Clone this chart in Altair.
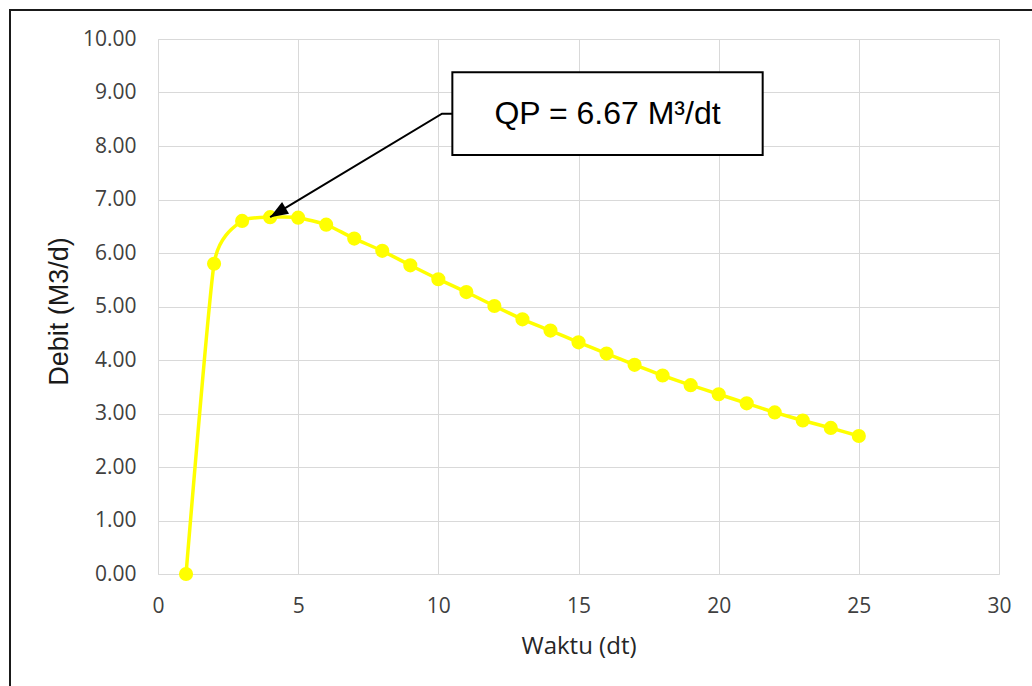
import math

import altair as alt
import pandas as pd

# Hydrograph: discharge (Debit) against time (Waktu)
waktu = list(range(1, 26))
debit = [0.00, 5.80, 6.60, 6.67, 6.66, 6.53, 6.27, 6.04, 5.77, 5.51,
         5.27, 5.01, 4.76, 4.55, 4.33, 4.12, 3.91, 3.71, 3.53, 3.36,
         3.19, 3.02, 2.87, 2.73, 2.58]

x_ticks = [0, 5, 10, 15, 20, 25, 30]
y_ticks = [0, 1, 2, 3, 4, 5, 6, 7, 8, 9, 10]

# Peak discharge, used by the callout
i_peak = max(range(len(debit)), key=lambda i: debit[i])
peak_x, peak_y = waktu[i_peak], debit[i_peak]
callout_text = f"QP = {peak_y:.2f} M³/dt"

# Callout geometry (data units)
BOX_X = (10.5, 21.57)
BOX_Y = (7.83, 9.38)
ELBOW_X = 10.13
MID_Y = (BOX_Y[0] + BOX_Y[1]) / 2

W, H = 841, 535
PAD = {"left": 158, "top": 39, "right": 33, "bottom": 112}
X_DOM, Y_DOM = (0, 30), (0, 10)

df = pd.DataFrame({"waktu": waktu, "debit": debit})

grid = "#d9d9d9"
x_enc = alt.X(
    "waktu:Q",
    scale=alt.Scale(domain=list(X_DOM), nice=False, zero=False),
    axis=alt.Axis(
        values=x_ticks, title="Waktu (dt)", grid=True, gridColor=grid,
        domainColor=grid, ticks=False, tickSize=0, labelPadding=38,
        labelFlush=False, labelBaseline="alphabetic", labelFont="Open Sans",
        labelFontSize=21, labelColor="#404040", titleFont="Open Sans",
        titleFontSize=24, titleFontWeight="normal", titleColor="#262626",
        titleX=W / 2, titleY=79, titleBaseline="alphabetic",
    ),
)
y_enc = alt.Y(
    "debit:Q",
    scale=alt.Scale(domain=list(Y_DOM), nice=False),
    axis=alt.Axis(
        values=y_ticks, format=".2f", title="Debit (M3/d)", grid=True,
        gridColor=grid, domainColor=grid, ticks=False, tickSize=0,
        labelPadding=22, labelFlush=False, labelFont="Open Sans",
        labelFontSize=21, labelColor="#404040", titleFont="Liberation Sans",
        titleFontSize=27, titleFontWeight="normal", titleColor="#1a1a1a",
        titleX=-99, titleY=272, titleBaseline="middle", titleAlign="center",
    ),
)

# Smoothed series line with markers
line = alt.Chart(df).mark_line(
    color="#FFFF00", strokeWidth=3.5, interpolate="cardinal", tension=0.5
).encode(x=x_enc, y=y_enc)

dots = alt.Chart(df).mark_circle(
    color="#FFFF00", size=200, opacity=1
).encode(x="waktu:Q", y="debit:Q")

# Callout leader: box edge -> elbow -> peak
leader_df = pd.DataFrame({
    "waktu": [BOX_X[0], ELBOW_X, peak_x],
    "debit": [MID_Y, MID_Y, peak_y],
    "o": [0, 1, 2],
})
leader = alt.Chart(leader_df).mark_line(
    color="#000000", strokeWidth=2
).encode(x="waktu:Q", y="debit:Q", order="o:Q")

# Arrowhead orientation from the last leader segment, in pixels
px_x = W / (X_DOM[1] - X_DOM[0])
px_y = H / (Y_DOM[1] - Y_DOM[0])
dx = (peak_x - ELBOW_X) * px_x
dy = -(peak_y - MID_Y) * px_y
head_angle = math.degrees(math.atan2(dx, -dy)) % 360

head = alt.Chart(pd.DataFrame({"waktu": [peak_x], "debit": [peak_y]})).mark_point(
    shape="M0,0L-0.375,1L0.375,1Z", filled=True, fill="#000000",
    size=1296, angle=head_angle, strokeWidth=0, opacity=1,
).encode(x="waktu:Q", y="debit:Q")

box = alt.Chart(pd.DataFrame({
    "x0": [BOX_X[0]], "x1": [BOX_X[1]], "y0": [BOX_Y[0]], "y1": [BOX_Y[1]],
})).mark_rect(fill="#ffffff", stroke="#000000", strokeWidth=2).encode(
    x="x0:Q", x2="x1:Q", y="y0:Q", y2="y1:Q"
)

label = alt.Chart(pd.DataFrame({
    "waktu": [(BOX_X[0] + BOX_X[1]) / 2], "debit": [MID_Y], "t": [callout_text],
})).mark_text(
    font="Liberation Sans", fontSize=32, color="#000000",
    align="center", baseline="middle",
).encode(x="waktu:Q", y="debit:Q", text="t:N")

# Outer frame (top and left edges)
one = pd.DataFrame({"k": [0]})
frame_top = alt.Chart(one).mark_rule(color="#1a1a1a", strokeWidth=2).encode(
    x=alt.value(-149), x2=alt.value(W + PAD["right"]), y=alt.value(-29)
)
frame_left = alt.Chart(one).mark_rule(color="#1a1a1a", strokeWidth=2).encode(
    x=alt.value(-148), y=alt.value(-30), y2=alt.value(H + PAD["bottom"])
)

chart = alt.layer(
    line, dots, leader, head, box, label, frame_top, frame_left
).properties(
    width=W, height=H, padding=PAD,
    autosize=alt.AutoSizeParams(type="none"),
    background="#ffffff",
).configure_view(strokeWidth=0)

chart.save("out.html", embed_options={"renderer": "svg", "actions": False})
